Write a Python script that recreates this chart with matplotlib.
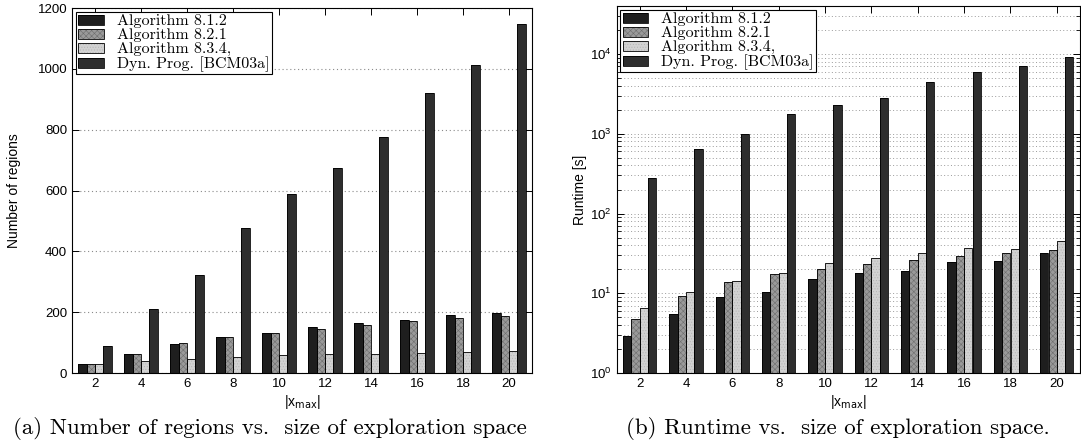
import numpy as np
import matplotlib
matplotlib.use("Agg")
import matplotlib.pyplot as plt
from matplotlib.legend_handler import HandlerTuple

# data
x_max = np.array([2, 4, 6, 8, 10, 12, 14, 16, 18, 20])
labels = ["Algorithm 8.1.2", "Algorithm 8.2.1", "Algorithm 8.3.4,", "Dyn. Prog. [BCM03a]"]

# (a) number of regions
regions_812 = [28, 63, 95, 120, 130, 150, 163, 175, 190, 198]
regions_821 = [30, 63, 97, 120, 130, 146, 159, 170, 181, 188]
regions_834 = [30, 40, 47, 53, 58, 62, 64, 66, 70, 72]
regions_dp = [90, 212, 322, 477, 588, 675, 775, 920, 1013, 1147]

# (b) runtime [s]
runtime_812 = [2.9, 5.5, 8.9, 10.5, 15.0, 18.0, 18.8, 24.6, 25.1, 31.8]
runtime_821 = [4.8, 9.3, 13.9, 17.6, 20.4, 23.5, 26.0, 29.5, 32.0, 35.2]
runtime_834 = [6.6, 10.4, 14.4, 17.9, 24.0, 27.9, 32.4, 36.9, 35.9, 45.0]
runtime_dp = [280, 640, 980, 1750, 2300, 2800, 4400, 5900, 7000, 9100]

face = ["#1e1e1e", "#9a9a9a", "#d2d2d2", "#2e2e2e"]
hatch_col = ["#1e1e1e", "#6e6e6e", "#b4b4b4", "#454545"]
hatches = [None, "xxxxxx", "......", None]

plt.rcParams["font.family"] = ["Liberation Sans", "DejaVu Sans"]
plt.rcParams["hatch.linewidth"] = 0.4

fig = plt.figure(figsize=(10.81, 4.43), dpi=100)
ax1 = fig.add_axes([72 / 1081, 70 / 443, 460 / 1081, 365 / 443])
ax2 = fig.add_axes([616.5 / 1081, 70 / 443, 463.5 / 1081, 367 / 443])

bw = 0.355
offsets = [-0.54, -0.18, 0.18, 0.54]


def draw_bars(ax, series):
    handles = []
    for k, vals in enumerate(series):
        pos = x_max + offsets[k]
        fill = ax.bar(pos, vals, width=bw, color=face[k], edgecolor=hatch_col[k],
                      hatch=hatches[k], linewidth=0, zorder=2)
        edge = ax.bar(pos, vals, width=bw, fill=False, edgecolor="black",
                      linewidth=0.6, zorder=3)
        handles.append((fill.patches[0], edge.patches[0]))
    return handles


def style(ax):
    ax.set_xlim(1, 21)
    ax.set_xticks(x_max)
    ax.tick_params(direction="in", top=True, right=True, labelsize=9.5,
                   length=5, width=0.7, zorder=5)
    ax.tick_params(which="minor", direction="in", right=True, length=3, width=0.6)
    for s in ax.spines.values():
        s.set_linewidth(0.8)
    ax.set_xlabel(r"|x$_{\rm max}$|", fontsize=10, labelpad=2)


h1 = draw_bars(ax1, [regions_812, regions_821, regions_834, regions_dp])
style(ax1)
ax1.set_ylim(0, 1200)
ax1.set_yticks(np.arange(0, 1201, 200))
ax1.yaxis.grid(True, linestyle=(0, (1, 2.5)), color="#8a8a8a", linewidth=0.8, zorder=0)
ax1.set_axisbelow(True)
ax1.set_ylabel("Number of regions", fontsize=10, labelpad=12)

h2 = draw_bars(ax2, [runtime_812, runtime_821, runtime_834, runtime_dp])
ax2.set_yscale("log")
style(ax2)
ax2.set_ylim(1, 4e4)
ax2.yaxis.grid(True, which="both", linestyle=(0, (1, 2.5)), color="#9a9a9a", linewidth=0.7, zorder=0)
ax2.set_axisbelow(True)
ax2.set_ylabel("Runtime [s]", fontsize=10, labelpad=2)

for ax, h in [(ax1, h1), (ax2, h2)]:
    leg = ax.legend(h, labels, loc="upper left", handler_map={tuple: HandlerTuple(ndivide=1)},
                    prop={"family": "cmr10", "size": 11.5}, fancybox=False, framealpha=1,
                    edgecolor="black", borderaxespad=0.25, labelspacing=0.0,
                    handlelength=1.6, handleheight=0.6, handletextpad=0.8,
                    borderpad=0.15)
    leg.get_frame().set_linewidth(0.8)
    leg.set_zorder(10)

fig.text(270 / 1081, 1 - 428 / 443, "(a) Number of regions vs.  size of exploration space",
         family="cmr10", fontsize=16.5, ha="center", va="center")
fig.text(838 / 1081, 1 - 428 / 443, "(b) Runtime vs.  size of exploration space.",
         family="cmr10", fontsize=16.5, ha="center", va="center")

fig.savefig("out.png", dpi=100)
